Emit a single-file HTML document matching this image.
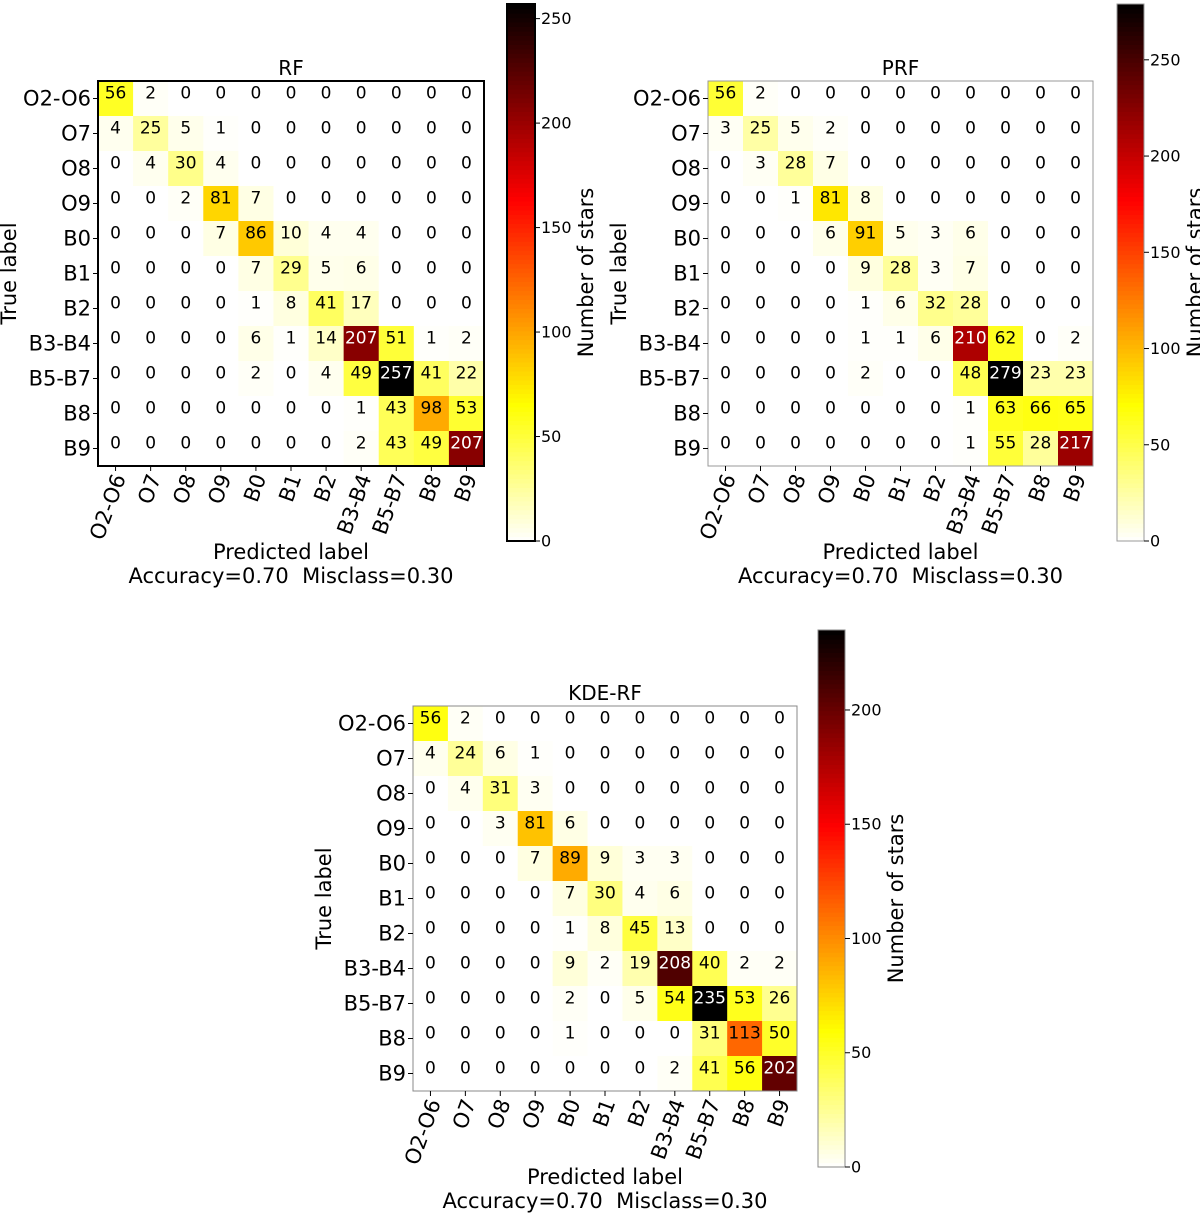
<!DOCTYPE html>
<html><head><meta charset="utf-8"><style>
html,body{margin:0;padding:0;background:#fff;}
svg{display:block;font-family:"DejaVu Sans","Liberation Sans",sans-serif;}
</style></head><body>
<svg id="fig" width="1200" height="1213" viewBox="0 0 1200 1213" xmlns="http://www.w3.org/2000/svg"></svg>
<script>
const classLabels = ["O2-O6","O7","O8","O9","B0","B1","B2","B3-B4","B5-B7","B8","B9"];
const rfValues = [
[56,2,0,0,0,0,0,0,0,0,0],[4,25,5,1,0,0,0,0,0,0,0],[0,4,30,4,0,0,0,0,0,0,0],[0,0,2,81,7,0,0,0,0,0,0],
[0,0,0,7,86,10,4,4,0,0,0],[0,0,0,0,7,29,5,6,0,0,0],[0,0,0,0,1,8,41,17,0,0,0],[0,0,0,0,6,1,14,207,51,1,2],
[0,0,0,0,2,0,4,49,257,41,22],[0,0,0,0,0,0,0,1,43,98,53],[0,0,0,0,0,0,0,2,43,49,207]];
const prfValues = [
[56,2,0,0,0,0,0,0,0,0,0],[3,25,5,2,0,0,0,0,0,0,0],[0,3,28,7,0,0,0,0,0,0,0],[0,0,1,81,8,0,0,0,0,0,0],
[0,0,0,6,91,5,3,6,0,0,0],[0,0,0,0,9,28,3,7,0,0,0],[0,0,0,0,1,6,32,28,0,0,0],[0,0,0,0,1,1,6,210,62,0,2],
[0,0,0,0,2,0,0,48,279,23,23],[0,0,0,0,0,0,0,1,63,66,65],[0,0,0,0,0,0,0,1,55,28,217]];
const kdeValues = [
[56,2,0,0,0,0,0,0,0,0,0],[4,24,6,1,0,0,0,0,0,0,0],[0,4,31,3,0,0,0,0,0,0,0],[0,0,3,81,6,0,0,0,0,0,0],
[0,0,0,7,89,9,3,3,0,0,0],[0,0,0,0,7,30,4,6,0,0,0],[0,0,0,0,1,8,45,13,0,0,0],[0,0,0,0,9,2,19,208,40,2,2],
[0,0,0,0,2,0,5,54,235,53,26],[0,0,0,0,1,0,0,0,31,113,50],[0,0,0,0,0,0,0,2,41,56,202]];
const rfTicks = [0,50,100,150,200,250];
const prfTicks = [0,50,100,150,200,250];
const kdeTicks = [0,50,100,150,200];

const NS="http://www.w3.org/2000/svg";
const svg=document.getElementById('fig');
function mk(tag,attrs,parent,text){const e=document.createElementNS(NS,tag);for(const k in attrs)e.setAttribute(k,attrs[k]);if(text!==undefined)e.textContent=text;(parent||svg).appendChild(e);return e;}
function hotR(v){const t=1-Math.max(0,Math.min(1,v));
 const r=Math.min(1,t/0.365079),g=Math.max(0,Math.min(1,(t-0.365079)/(0.746032-0.365079))),b=Math.max(0,Math.min(1,(t-0.746032)/(1-0.746032)));
 return `rgb(${Math.round(r*255)},${Math.round(g*255)},${Math.round(b*255)})`;}

function panel(p){
 const g=mk('g',{});
 
 
 const n=classLabels.length, cell=(p.x1-p.x0)/n, ch=(p.y1-p.y0)/n;
 let vmax=0;p.values.forEach(r=>r.forEach(v=>{if(v>vmax)vmax=v;}));
 const xs=i=>p.x0+(i+0.5)*cell, ys=i=>p.y0+(i+0.5)*ch;
 p.values.forEach((row,i)=>row.forEach((v,j)=>{
  const r=mk('rect',{x:p.x0+j*cell,y:p.y0+i*ch,width:cell+0.5,height:ch+0.5,fill:hotR(v/vmax)},g);
  
  
  const t=mk('text',{x:xs(j),y:ys(i)-5,'font-size':17,'text-anchor':'middle','dominant-baseline':'central',fill:v>vmax/2?'#fff':'#000'},g,String(v));
  
  
 }));
 mk('rect',{x:p.x0,y:p.y0,width:p.x1-p.x0,height:p.y1-p.y0,fill:'none',stroke:p.border,'stroke-width':p.bw},g);
 const title=mk('text',{x:(p.x0+p.x1)/2,y:p.y0-6,'font-size':20,'text-anchor':'middle'},g,p.title);
 
 
 classLabels.forEach((l,i)=>{
  mk('line',{x1:p.x0-5,x2:p.x0,y1:ys(i),y2:ys(i),stroke:'#000'},g);
  const yl=mk('text',{x:p.x0-7,y:ys(i),'font-size':21,'text-anchor':'end','dominant-baseline':'central'},g,l);
  
  
  mk('line',{x1:xs(i),x2:xs(i),y1:p.y1,y2:p.y1+5,stroke:'#000'},g);
  const xl=mk('text',{x:0,y:0,'font-size':21,'text-anchor':'end','dominant-baseline':'central',transform:`translate(${xs(i)+4},${p.y1+9}) rotate(-70)`},g,l);
  
  
 });
 const yt=mk('text',{x:0,y:0,'font-size':21,'text-anchor':'middle',transform:`translate(${p.x0-p.ylabOff},${(p.y0+p.y1)/2}) rotate(-90)`},g,'True label');
 
 
 const xt=mk('text',{x:(p.x0+p.x1)/2,y:p.y1+93,'font-size':21,'text-anchor':'middle'},g,'Predicted label');
 
 
 const acc=mk('text',{x:(p.x0+p.x1)/2,y:p.y1+117,'font-size':21,'text-anchor':'middle',style:'white-space:pre'},g,'Accuracy=0.70  Misclass=0.30');
 
 
 // colorbar
 const cb=p.cb, steps=120, h=(cb.y1-cb.y0)/steps;
 const cbg=mk('g',{},g);
 
 
 for(let k=0;k<steps;k++){mk('rect',{x:cb.x0,y:cb.y1-(k+1)*h,width:cb.x1-cb.x0,height:h+0.6,fill:hotR((k+0.5)/steps)},cbg);}
 mk('rect',{x:cb.x0,y:cb.y0,width:cb.x1-cb.x0,height:cb.y1-cb.y0,fill:'none',stroke:p.border,'stroke-width':p.cbw},cbg);
 const cy=v=>cb.y1-(v/vmax)*(cb.y1-cb.y0);
 p.ticks.forEach(v=>{
  mk('line',{x1:cb.x1,x2:cb.x1+5,y1:cy(v),y2:cy(v),stroke:'#000'},cbg);
  const tl=mk('text',{x:cb.x1+6,y:cy(v),'font-size':16,'dominant-baseline':'central'},cbg,String(v));
  
  
 });
 const cbt=mk('text',{x:0,y:0,'font-size':21,'text-anchor':'middle',transform:`translate(${cb.x1+58},${(cb.y0+cb.y1)/2}) rotate(-90)`},cbg,'Number of stars');
 
 
}
panel({name:'rf',title:'RF',values:rfValues,ticks:rfTicks,x0:98,x1:484,y0:81,y1:466,border:'#000',bw:2,cbw:2,ylabOff:82,cb:{x0:507,x1:535,y0:4,y1:541}});
panel({name:'prf',title:'PRF',values:prfValues,ticks:prfTicks,x0:708,x1:1093,y0:81,y1:466,border:'#999',bw:1,cbw:1,ylabOff:82,cb:{x0:1117,x1:1144,y0:4,y1:541}});
panel({name:'kde-rf',title:'KDE-RF',values:kdeValues,ticks:kdeTicks,x0:413,x1:797,y0:706,y1:1091,border:'#888',bw:1,cbw:1,ylabOff:82,cb:{x0:818,x1:845,y0:630,y1:1167}});
</script>
</body></html>
